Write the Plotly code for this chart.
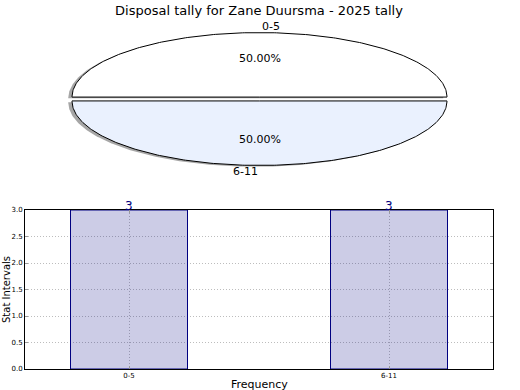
import numpy as np
import plotly.graph_objects as go

# ---- data ----
title_text = "Disposal tally for Zane Duursma - 2025 tally"
categories = ["0-5", "6-11"]
counts = [3, 3]
pie_colors = ["#ffffff", "#eaf1fe"]
y_ticks = [0.0, 0.5, 1.0, 1.5, 2.0, 2.5, 3.0]
x_label = "Frequency"
y_label = "Stat Intervals"

# ---- layout constants (pixels, top subplot uses pixel-like data space) ----
W, H = 520, 390
TOP_H = 195
CX, CY, RX, RY = 259.5, 99.0, 187.5, 64.5
EXPLODE = 0.03
SHADOW = (-0.02, -0.02)
FONT = "DejaVu Sans"
GRID = "#bdbdbd"

fig = go.Figure()

total = float(sum(counts))
wedges = []
start = 0.0
for cat, v, col in zip(categories, counts, pie_colors):
    frac = v / total
    t1, t2 = 360 * start, 360 * (start + frac)
    tm = np.radians((t1 + t2) / 2)
    ex, ey = EXPLODE * np.cos(tm), EXPLODE * np.sin(tm)
    th = np.radians(np.linspace(t1, t2, 241))
    ux = np.concatenate([[0], np.cos(th), [0]]) + ex
    uy = np.concatenate([[0], np.sin(th), [0]]) + ey
    wedges.append((cat, frac, col, ux, uy, tm, ex, ey))
    start += frac

# shadows first
for cat, frac, col, ux, uy, tm, ex, ey in wedges:
    fig.add_trace(go.Scatter(
        x=CX + RX * (ux + SHADOW[0]), y=CY - RY * (uy + SHADOW[1]),
        mode="lines", fill="toself", fillcolor="rgba(77,77,77,0.5)",
        line=dict(width=0), xaxis="x2", yaxis="y2", hoverinfo="skip", showlegend=False))

for cat, frac, col, ux, uy, tm, ex, ey in wedges:
    fig.add_trace(go.Scatter(
        x=CX + RX * ux, y=CY - RY * uy,
        mode="lines", fill="toself", fillcolor=col,
        line=dict(color="black", width=1), xaxis="x2", yaxis="y2",
        hoverinfo="skip", showlegend=False))
    lx, ly = 1.1 * np.cos(tm) + ex, 1.1 * np.sin(tm) + ey
    fig.add_annotation(x=CX + RX * lx, y=CY - RY * ly, xref="x2", yref="y2",
                       text=cat, showarrow=False,
                       xanchor="left" if np.cos(tm) > 0 else "right",
                       yanchor="middle", font=dict(family=FONT, size=11, color="black"))
    px, py = 0.6 * np.cos(tm) + ex, 0.6 * np.sin(tm) + ey
    fig.add_annotation(x=CX + RX * px, y=CY - RY * py, xref="x2", yref="y2",
                       text=f"{frac * 100:.2f}%", showarrow=False,
                       xanchor="center", yanchor="middle",
                       font=dict(family=FONT, size=11, color="black"))

# ---- bar chart ----
fig.add_trace(go.Bar(
    x=categories, y=counts, width=0.45,
    marker=dict(color="rgba(0,0,128,0.2)", line=dict(color="navy", width=1)),
    xaxis="x", yaxis="y", showlegend=False, hoverinfo="skip"))

for cat, v in zip(categories, counts):
    fig.add_annotation(x=cat, y=v, xref="x", yref="y", text=str(v), showarrow=False,
                       yanchor="bottom", yshift=-5,
                       font=dict(family=FONT, size=12, color="navy"))

fig.add_annotation(x=6 / W, y=(H - 290) / H, xref="paper", yref="paper",
                   text=y_label, textangle=-90, showarrow=False,
                   xanchor="center", yanchor="middle",
                   font=dict(family=FONT, size=10, color="black"))
fig.add_annotation(x=259 / W, y=(H - 384) / H, xref="paper", yref="paper",
                   text=x_label, showarrow=False,
                   xanchor="center", yanchor="middle",
                   font=dict(family=FONT, size=11, color="black"))

axis_common = dict(
    showline=True, linecolor="black", linewidth=1, mirror="ticks",
    ticks="inside", ticklen=3, tickcolor="#999999",
    showgrid=True, gridcolor=GRID, griddash="1px,2px", gridwidth=1,
    tickfont=dict(family=FONT, size=7, color="black"),
    layer="above traces", zeroline=False, automargin=False,
)

fig.update_layout(
    template="none",
    width=W, height=H,
    margin=dict(l=0, r=0, t=0, b=0, autoexpand=False),
    paper_bgcolor="white", plot_bgcolor="white",
    font=dict(family=FONT, color="black"),
    showlegend=False,
    title=dict(text=title_text, x=259 / W, xanchor="center",
               y=1 - 10 / H, yanchor="middle",
               font=dict(family=FONT, size=13, color="black")),
    xaxis=dict(domain=[25 / W, 493 / W], anchor="y", range=[-0.4, 1.4], **axis_common),
    yaxis=dict(domain=[(H - 369) / H, (H - 210) / H], anchor="x", range=[0, 3],
               tickvals=y_ticks, ticktext=[f"{t:.1f}" for t in y_ticks], **axis_common),
    xaxis2=dict(domain=[0, 1], anchor="y2", range=[0, W], visible=False, automargin=False),
    yaxis2=dict(domain=[(H - TOP_H) / H, 1], anchor="x2", range=[TOP_H, 0],
                visible=False, automargin=False),
)

fig.write_html("out.html")
